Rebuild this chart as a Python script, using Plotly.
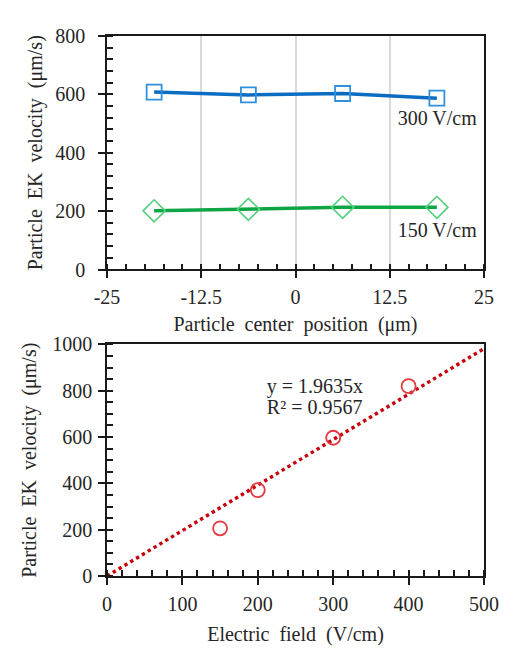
import plotly.graph_objects as go

# ---- data: panel (a)
pos_x = [-18.75, -6.25, 6.25, 18.75]
v_300 = [608, 598, 603, 587]
v_150 = [201, 206, 213, 213]
series_labels = ["300 V/cm", "150 V/cm"]
xticks_a = [-25, -12.5, 0, 12.5, 25]
xticktext_a = ["-25", "-12.5", "0", "12.5", "25"]

# ---- data: panel (b)
field = [150, 200, 300, 400]
vel = [206, 371, 597, 820]
trend_x = [0, 500]
trend_y = [0, 981.75]
eq_lines = ["y = 1.9635x", "R² = 0.9567"]

# ---- text placement (in each panel's data units)
series_label_x = [18.8, 18.8]
series_label_y = [513, 130]
eq_x = [212, 212]
eq_y = [811, 723]

FONT = "Liberation Serif, Times New Roman, serif"
TXT = "#262626"
AX = "#1a1a1a"

fig = go.Figure()

fig.add_trace(go.Scatter(x=pos_x, y=v_300, mode="lines+markers", xaxis="x", yaxis="y",
                         line=dict(color="#0B6DC2", width=3.5),
                         marker=dict(symbol="square-open", size=15, color="#3090DC",
                                     line=dict(width=1.8, color="#3090DC")),
                         showlegend=False))
fig.add_trace(go.Scatter(x=pos_x, y=v_150, mode="lines+markers", xaxis="x", yaxis="y",
                         line=dict(color="#0EA544", width=3.5),
                         marker=dict(symbol="diamond-open", size=17, color="#55CF7C",
                                     line=dict(width=1.6, color="#55CF7C")),
                         showlegend=False))

fig.add_trace(go.Scatter(x=trend_x, y=trend_y, mode="lines", xaxis="x2", yaxis="y2",
                         line=dict(color="#C8000A", width=3.4, dash="dot"),
                         showlegend=False))
fig.add_trace(go.Scatter(x=field, y=vel, mode="markers", xaxis="x2", yaxis="y2",
                         marker=dict(symbol="circle-open", size=14, color="#E23A3E",
                                     line=dict(width=1.8, color="#E23A3E")),
                         showlegend=False))

txtfont = dict(family=FONT, size=20, color=TXT)

# series labels in panel (a)
fig.add_trace(go.Scatter(x=series_label_x, y=series_label_y, mode="text", xaxis="x", yaxis="y",
                         text=series_labels, textposition="middle center",
                         textfont=txtfont, showlegend=False, hoverinfo="skip",
                         cliponaxis=False))
# regression equation in panel (b)
fig.add_trace(go.Scatter(x=eq_x, y=eq_y, mode="text", xaxis="x2", yaxis="y2",
                         text=eq_lines, textposition="middle right",
                         textfont=txtfont, showlegend=False, hoverinfo="skip",
                         cliponaxis=False))
# panel letters (placed outside the axes, not clipped)
fig.add_trace(go.Scatter(x=[-35.4], y=[853], mode="text", xaxis="x", yaxis="y",
                         text=["<b>(a)</b>"], textposition="middle center",
                         textfont=dict(family=FONT, size=22, color=TXT),
                         showlegend=False, hoverinfo="skip", cliponaxis=False))
fig.add_trace(go.Scatter(x=[-105], y=[1067], mode="text", xaxis="x2", yaxis="y2",
                         text=["<b>(b)</b>"], textposition="middle center",
                         textfont=dict(family=FONT, size=22, color=TXT),
                         showlegend=False, hoverinfo="skip", cliponaxis=False))

tickfont = dict(family=FONT, size=20, color=TXT)
titlefont = dict(family=FONT, size=20, color=TXT)

common = dict(showline=True, linecolor=AX, linewidth=1.5, mirror=True,
              ticks="outside", ticklen=7, tickwidth=1.5, tickcolor=AX,
              tickfont=tickfont, zeroline=False)

dom_a = [0.5676, 1.0]
dom_b = [0.0, 0.4288]

fig.update_layout(
    width=511, height=654,
    margin=dict(l=107, r=13, t=36, b=63),
    paper_bgcolor="white", plot_bgcolor="white",
    xaxis=dict(domain=[0, 1], anchor="y", range=[-25, 25],
               tickmode="array", tickvals=xticks_a, ticktext=xticktext_a,
               showgrid=True, gridcolor="#D9D9D9", gridwidth=1.5,
               minor=dict(ticks="inside", dtick=2.5, tick0=-25, ticklen=6, tickwidth=1.5,
                          tickcolor=AX),
               ticklabelstandoff=2,
               title=dict(text="Particle  center  position  (μm)", font=titlefont, standoff=10),
               **common),
    yaxis=dict(domain=dom_a, anchor="x", range=[0, 800], dtick=200, showgrid=False,
               minor=dict(ticks="inside", dtick=40, ticklen=6, tickwidth=1.5,
                          tickcolor=AX),
               ticklabelstandoff=9,
               title=dict(text="Particle  EK  velocity  (μm/s)", font=titlefont, standoff=7),
               **common),
    xaxis2=dict(domain=[0, 1], anchor="y2", range=[0, 500], dtick=100, showgrid=False,
                minor=dict(ticks="inside", dtick=20, ticklen=6, tickwidth=1.5,
                           tickcolor=AX),
                ticklabelstandoff=2,
                title=dict(text="Electric  field  (V/cm)", font=titlefont, standoff=13),
                **common),
    yaxis2=dict(domain=dom_b, anchor="x2", range=[0, 1000], dtick=200, showgrid=False,
                minor=dict(ticks="inside", dtick=50, ticklen=6, tickwidth=1.5,
                           tickcolor=AX),
                ticklabelstandoff=2,
                title=dict(text="Particle  EK  velocity  (μm/s)", font=titlefont, standoff=10),
                **common),
)

fig.write_html("out.html")
